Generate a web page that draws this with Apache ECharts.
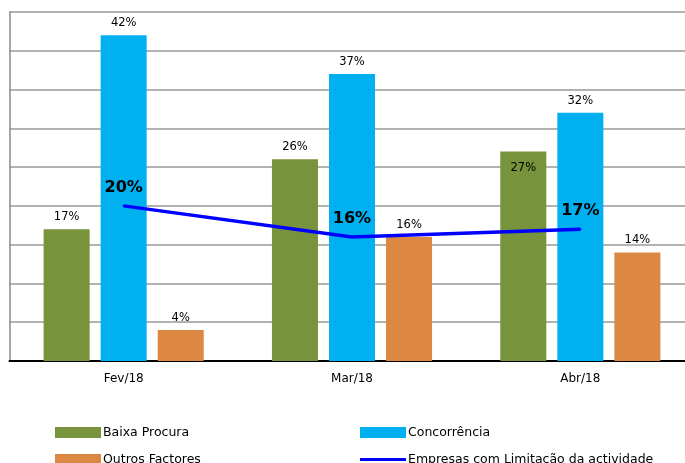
<!DOCTYPE html>
<html><head><meta charset="utf-8">
<script src="https://cdn.jsdelivr.net/npm/echarts@6/dist/echarts.min.js"></script>
<style>html,body{margin:0;padding:0;background:#fff}#c{width:685px;height:463px}</style>
</head><body><div id="c"></div>
<script>
const categories = ['Fev/18', 'Mar/18', 'Abr/18'];
const baixaProcura = [17, 26, 27];
const concorrencia = [42, 37, 32];
const outrosFactores = [4, 16, 14];
const empresasLimitacao = [20, 16, 17];
const seriesNames = ['Baixa Procura', 'Concorrência', 'Outros Factores', 'Empresas com Limitação da actividade'];

const font = 'DejaVu Sans';
const barLabel = {show: true, position: 'top', distance: 6, color: '#000', fontFamily: font, fontSize: 11.5, formatter: p => p.value + '%'};
const legText = {fontSize: 12.5, color: '#000', fontFamily: font, padding: [0,0,0,-3]};

const chart = echarts.init(document.getElementById('c'));
chart.setOption({
  animation: false,
  backgroundColor: '#fff',
  textStyle: {fontFamily: font},
  grid: {left: 9.5, right: -9.5, top: 12, bottom: 102, containLabel: false, outerBoundsMode: 'none'},
  xAxis: {
    type: 'category', data: categories,
    axisLine: {lineStyle: {color: '#000', width: 2}},
    axisTick: {show: false},
    axisLabel: {color: '#000', fontSize: 12, fontFamily: font, margin: 12}
  },
  yAxis: {
    type: 'value', min: 0, max: 45, interval: 5,
    axisLine: {show: true, lineStyle: {color: '#888', width: 1.5}},
    axisTick: {show: false},
    axisLabel: {show: false},
    splitLine: {lineStyle: {color: '#999', width: 1.5}}
  },
  legend: [
    {left: 50, top: 421, itemWidth: 46, itemHeight: 11, data: [{name: seriesNames[0], icon: 'rect'}], textStyle: legText},
    {left: 355, top: 421, itemWidth: 46, itemHeight: 11, data: [{name: seriesNames[1], icon: 'rect'}], textStyle: legText},
    {left: 50, top: 448, itemWidth: 46, itemHeight: 11, data: [{name: seriesNames[2], icon: 'rect'}], textStyle: legText},
    {left: 355, top: 448, itemWidth: 46, itemHeight: 11, data: [{name: seriesNames[3], icon: 'path://M0,4 L46,4 L46,7 L0,7 Z', itemStyle: {color: '#0000FF', opacity: 1}}], textStyle: legText}
  ],
  series: [
    {name: seriesNames[0], type: 'bar', data: baixaProcura.map((v, i) => i === 2 ? {value: v, label: {position: 'insideTop', distance: 10}} : v),
     itemStyle: {color: '#77933C'}, barWidth: 46, barGap: '24%', label: barLabel},
    {name: seriesNames[1], type: 'bar', data: concorrencia, itemStyle: {color: '#00B0F0'}, barWidth: 46, barGap: '24%', label: barLabel},
    {name: seriesNames[2], type: 'bar', data: outrosFactores, itemStyle: {color: '#DC8843'}, barWidth: 46, barGap: '24%', label: barLabel},
    {name: seriesNames[3], type: 'line', data: empresasLimitacao, showSymbol: true, symbol: 'circle', symbolSize: 2, z: 5,
     lineStyle: {color: '#0000FF', width: 3.5}, itemStyle: {color: '#0000FF'},
     label: {show: true, position: 'top', distance: 9, color: '#000', fontWeight: 'bold', fontSize: 16, fontFamily: font, formatter: p => p.value + '%'}}
  ]
});
</script></body></html>
